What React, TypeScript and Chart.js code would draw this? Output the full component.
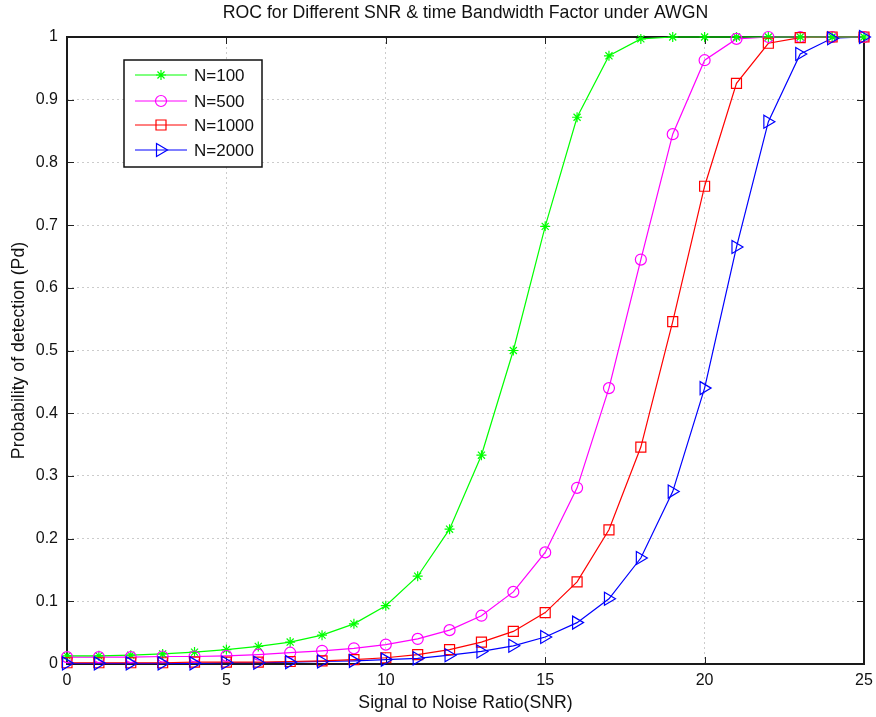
import React, { useEffect, useRef } from "react";
import { Chart, registerables } from "chart.js";

Chart.register(...registerables);

const snr = [0, 1, 2, 3, 4, 5, 6, 7, 8, 9, 10, 11, 12, 13, 14, 15, 16, 17, 18, 19, 20, 21, 22, 23, 24, 25];
const pdN100 = [0.013, 0.013, 0.014, 0.016, 0.019, 0.023, 0.028, 0.035, 0.046, 0.064, 0.093, 0.14, 0.215, 0.333, 0.5, 0.698, 0.872, 0.97, 0.997, 1, 1, 1, 1, 1, 1, 1];
const pdN500 = [0.011, 0.011, 0.011, 0.012, 0.012, 0.013, 0.015, 0.018, 0.021, 0.025, 0.031, 0.04, 0.054, 0.077, 0.115, 0.178, 0.281, 0.44, 0.645, 0.845, 0.963, 0.997, 1, 1, 1, 1];
const pdN1000 = [0.002, 0.002, 0.002, 0.002, 0.003, 0.003, 0.003, 0.004, 0.005, 0.007, 0.01, 0.015, 0.023, 0.035, 0.052, 0.082, 0.131, 0.214, 0.346, 0.546, 0.762, 0.926, 0.99, 0.999, 1, 1];
const pdN2000 = [0.001, 0.001, 0.001, 0.001, 0.001, 0.002, 0.002, 0.003, 0.004, 0.005, 0.007, 0.009, 0.014, 0.02, 0.029, 0.043, 0.066, 0.104, 0.169, 0.275, 0.44, 0.665, 0.865, 0.973, 0.998, 1];
const seriesLabels = ["N=100", "N=500", "N=1000", "N=2000"];
const xTicks = [0, 5, 10, 15, 20, 25];
const yTicks = [0, 0.1, 0.2, 0.3, 0.4, 0.5, 0.6, 0.7, 0.8, 0.9, 1];
const titleText = "ROC for Different SNR & time Bandwidth Factor under AWGN";
const xTitle = "Signal to Noise Ratio(SNR)";
const yTitle = "Probability of detection (Pd)";

const FONT = "'Liberation Sans', Arial, sans-serif";
const colors = ["#00ff00", "#ff00ff", "#ff0000", "#0000ff"];
const markers = ["star", "circle", "rect", "triangle"];

function drawMarker(ctx: CanvasRenderingContext2D, kind: string, x: number, y: number, color: string) {
  ctx.save();
  ctx.strokeStyle = color;
  ctx.lineWidth = 1.2;
  ctx.beginPath();
  if (kind === "star") {
    const r = 5;
    for (let i = 0; i < 4; i++) {
      const a = (i * Math.PI) / 4;
      ctx.moveTo(x - r * Math.cos(a), y - r * Math.sin(a));
      ctx.lineTo(x + r * Math.cos(a), y + r * Math.sin(a));
    }
  } else if (kind === "circle") {
    ctx.arc(x, y, 5.5, 0, Math.PI * 2);
  } else if (kind === "rect") {
    ctx.rect(x - 5, y - 5, 10, 10);
  } else {
    ctx.moveTo(x - 4.5, y - 6.5);
    ctx.lineTo(x + 6.5, y);
    ctx.lineTo(x - 4.5, y + 6.5);
    ctx.closePath();
  }
  ctx.stroke();
  ctx.restore();
}

const decorPlugin = {
  id: "decor",
  beforeDatasetsDraw(chart: any) {
    const { ctx, chartArea: a, scales } = chart;
    ctx.save();
    ctx.strokeStyle = "#222";
    ctx.lineWidth = 1;
    ctx.beginPath();
    for (const v of xTicks) {
      const px = Math.round(scales.x.getPixelForValue(v)) + 0.5;
      ctx.moveTo(px, a.bottom);
      ctx.lineTo(px, a.bottom - 7);
      ctx.moveTo(px, a.top);
      ctx.lineTo(px, a.top + 7);
    }
    for (const v of yTicks) {
      const py = Math.round(scales.y.getPixelForValue(v)) + 0.5;
      ctx.moveTo(a.left, py);
      ctx.lineTo(a.left + 7, py);
      ctx.moveTo(a.right, py);
      ctx.lineTo(a.right - 7, py);
    }
    ctx.stroke();
    ctx.lineWidth = 2;
    ctx.strokeStyle = "#1a1a1a";
    ctx.strokeRect(a.left, a.top, a.right - a.left, a.bottom - a.top);
    ctx.restore();
  },
  afterDraw(chart: any) {
    const { ctx, chartArea: a } = chart;
    ctx.save();
    ctx.fillStyle = "#111";
    ctx.font = `17.7px ${FONT}`;
    ctx.textAlign = "center";
    ctx.textBaseline = "middle";
    ctx.fillText(titleText, (a.left + a.right) / 2, 13);
    ctx.fillText(xTitle, (a.left + a.right) / 2, 703);
    ctx.save();
    ctx.translate(19, (a.top + a.bottom) / 2);
    ctx.rotate(-Math.PI / 2);
    ctx.fillText(yTitle, 0, 0);
    ctx.restore();

    const bx = 124, by = 60, bw = 138, bh = 107;
    ctx.fillStyle = "#fff";
    ctx.fillRect(bx, by, bw, bh);
    ctx.lineWidth = 1.5;
    ctx.strokeStyle = "#111";
    ctx.strokeRect(bx, by, bw, bh);
    const rows = [75, 101, 125, 150];
    ctx.font = `17px ${FONT}`;
    ctx.textAlign = "left";
    for (let i = 0; i < 4; i++) {
      const y = rows[i];
      ctx.strokeStyle = colors[i];
      ctx.lineWidth = 1;
      ctx.beginPath();
      ctx.moveTo(135, y);
      ctx.lineTo(187, y);
      ctx.stroke();
      drawMarker(ctx, markers[i], 161, y, colors[i]);
      ctx.fillStyle = "#111";
      ctx.fillText(seriesLabels[i], 194, y + 1);
    }
    ctx.restore();
  },
};

const markerPlugin = {
  id: "markers",
  afterDatasetsDraw(chart: any) {
    const { ctx } = chart;
    chart.data.datasets.forEach((ds: any, i: number) => {
      const meta = chart.getDatasetMeta(i);
      meta.data.forEach((pt: any) => {
        drawMarker(ctx, markers[i], pt.x, pt.y, colors[i]);
      });
    });
  },
};

export default function App() {
  const ref = useRef<HTMLCanvasElement>(null);
  useEffect(() => {
    document.body.style.margin = "0";
    const series = [pdN100, pdN500, pdN1000, pdN2000];
    const chart = new Chart(ref.current!, {
      type: "line",
      data: {
        datasets: series.map((s, i) => ({
          label: seriesLabels[i],
          data: snr.map((x, j) => ({ x, y: s[j] })),
          borderColor: colors[i],
          backgroundColor: colors[i],
          borderWidth: 1.2,
          pointRadius: 0,
          tension: 0,
          clip: false as any,
        })),
      },
      options: {
        animation: false,
        responsive: false,
        devicePixelRatio: 1,
        layout: { padding: { left: 0, top: 37, right: 12, bottom: 0 } },
        plugins: { legend: { display: false }, title: { display: false }, tooltip: { enabled: false } },
        scales: {
          x: {
            type: "linear",
            min: 0,
            max: 25,
            afterBuildTicks: (s: any) => { s.ticks = xTicks.map((v) => ({ value: v })); },
            afterFit: (s: any) => { s.height = 53; s.paddingRight = 0; },
            grid: { color: "#cccccc", drawTicks: false, lineWidth: 1 },
            border: { display: false, dash: [2, 3] },
            ticks: { color: "#111", font: { family: FONT, size: 16 }, padding: 7, maxRotation: 0 },
          },
          y: {
            type: "linear",
            min: 0,
            max: 1,
            afterBuildTicks: (s: any) => { s.ticks = yTicks.map((v) => ({ value: v })); },
            afterFit: (s: any) => { s.width = 67; s.paddingTop = 0; s.paddingBottom = 0; },
            grid: { color: "#cccccc", drawTicks: false, lineWidth: 1 },
            border: { display: false, dash: [2, 3] },
            ticks: { color: "#111", font: { family: FONT, size: 16 }, padding: 9, callback: (v: any) => String(Math.round(v * 10) / 10) },
          },
        },
      },
      plugins: [decorPlugin, markerPlugin],
    });
    return () => chart.destroy();
  }, []);
  return (
    <div style={{ position: "absolute", left: 0, top: 0, width: 876, height: 717 }}>
      <canvas ref={ref} width={876} height={717} />
    </div>
  );
}
